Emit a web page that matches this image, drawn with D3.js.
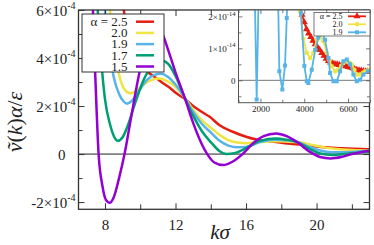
<!DOCTYPE html>
<html><head><meta charset="utf-8">
<script src="https://cdn.jsdelivr.net/npm/d3@7"></script>
<style>
body{margin:0;background:#fff}
svg{display:block}
</style>
</head><body>
<svg id="c" width="374" height="245"></svg>
<script>
// ---------- DATA (main plot, values in units of 1e-4) ----------
const alphaLabels = ["2.5", "2.0", "1.9", "1.7", "1.5"];
const seriesColors = ["#e51e10", "#f0e442", "#56b4e9", "#009e73", "#9400d3"];

const k25 = [8.9, 9.07, 9.3, 9.6, 10.0, 10.4, 10.8, 11.2, 11.6, 12.05, 12.52, 13.0, 13.5, 13.94, 14.5, 15.25, 16.0, 16.76, 17.7, 18.64, 19.5, 20.53, 21.5, 23];
const v25 = [7.5, 6.0, 5.0, 4.2, 3.7, 3.43, 3.22, 3.0, 2.8, 2.53, 2.3, 2.0, 1.75, 1.55, 1.2, 0.93, 0.72, 0.58, 0.5, 0.42, 0.36, 0.28, 0.24, 0.2];

const k20 = [8.15, 8.28, 8.5, 8.8, 9.1, 9.45, 9.8, 10.2, 10.7, 11.1, 11.5, 12.0, 12.52, 13.0, 13.5, 14.0, 14.5, 15.0, 15.5, 16.0, 16.8, 17.7, 18.3, 18.9, 19.6, 20.3, 21.0, 22.0, 23];
const v20 = [7.5, 6.0, 4.4, 3.3, 2.7, 2.53, 2.65, 2.9, 3.1, 3.15, 3.05, 2.8, 2.35, 1.85, 1.4, 1.1, 0.8, 0.58, 0.48, 0.45, 0.5, 0.53, 0.52, 0.5, 0.4, 0.3, 0.22, 0.17, 0.14];

const k19 = [7.9, 8.0, 8.2, 8.5, 8.8, 9.05, 9.25, 9.5, 9.9, 10.4, 10.8, 11.2, 11.6, 12.0, 12.52, 13.0, 13.5, 14.0, 14.5, 15.0, 15.5, 16.0, 16.8, 17.6, 18.3, 18.9, 19.6, 20.2, 20.8, 21.5, 22.2, 23];
const v19 = [7.5, 6.0, 4.5, 3.2, 2.5, 2.2, 2.1, 2.2, 2.6, 3.1, 3.3, 3.35, 3.2, 2.9, 2.35, 1.75, 1.25, 0.9, 0.55, 0.35, 0.28, 0.3, 0.5, 0.6, 0.58, 0.5, 0.3, 0.15, 0.08, 0.08, 0.1, 0.15];

const k17 = [7.45, 7.59, 7.8, 8.0, 8.3, 8.5, 8.73, 9.0, 9.3, 9.7, 10.2, 10.7, 11.2, 11.6, 12.0, 12.52, 13.0, 13.5, 14.0, 14.5, 14.9, 15.4, 16.0, 16.8, 17.7, 18.3, 18.9, 19.6, 20.2, 20.9, 21.6, 22.3, 23];
const v17 = [8.0, 6.0, 3.8, 2.3, 1.2, 0.75, 0.55, 0.7, 1.2, 2.1, 3.1, 3.7, 3.9, 3.75, 3.25, 2.35, 1.6, 0.95, 0.5, 0.12, 0.0, 0.05, 0.25, 0.55, 0.65, 0.6, 0.5, 0.22, 0.02, -0.04, 0.0, 0.06, 0.1];

const k15 = [7.2, 7.32, 7.45, 7.64, 7.85, 8.05, 8.27, 8.5, 8.8, 9.11, 9.5, 9.9, 10.3, 10.6, 10.9, 11.2, 11.6, 12.0, 12.52, 13.0, 13.5, 13.8, 14.2, 14.7, 15.2, 15.8, 16.4, 17.0, 17.7, 18.3, 18.9, 19.6, 20.2, 20.8, 21.4, 22.0, 22.5, 23];
const v15 = [9.0, 6.0, 3.3, 0.0, -1.3, -1.9, -2.03, -1.8, -1.0, 0.0, 1.6, 3.2, 4.5, 5.1, 5.3, 5.1, 4.3, 3.4, 2.35, 1.3, 0.4, 0.0, -0.35, -0.46, -0.33, 0.0, 0.45, 0.75, 0.86, 0.75, 0.5, 0.1, -0.12, -0.18, -0.12, 0.0, 0.08, 0.14];

const mainK = [k25, k20, k19, k17, k15];
const mainV = [v25, v20, v19, v17, v15];

const xMajorTicks = [8, 12, 16, 20];
const xMinorTicks = [10, 14, 18, 22];
const yMajorTicks = [-2, 0, 2, 4, 6];
const yMinorTicks = [-1, 1, 3, 5];
const yTickMantissa = ["-2", "0", "2", "4", "6"];
const yTickExponent = "-4";

// ---------- DATA (inset, values in units of 1e-14) ----------
const insetLabels = ["2.5", "2.0", "1.9"];
const insetColors = ["#e51e10", "#f0e442", "#56b4e9"];
const iX25 = [3700, 3800, 3900, 4000, 4100, 4200, 4300, 4400, 4500, 4600, 4700, 4800, 4900, 5000, 5100, 5200, 5300, 5400, 5500, 5600, 5700, 5800, 5900, 6000, 6100, 6200, 6300, 6400, 6500, 6600, 6700, 6800, 6900, 7000];
const iV25 = [2.7, 2.3, 2.05, 1.82, 1.6, 1.47, 1.36, 1.24, 1.13, 1.04, 0.95, 0.86, 0.77, 0.68, 0.61, 0.56, 0.53, 0.51, 0.5, 0.48, 0.46, 0.45, 0.44, 0.42, 0.4, 0.38, 0.35, 0.33, 0.31, 0.3, 0.29, 0.28, 0.28, 0.28];
const iX20 = [3650, 3808, 3960, 4114, 4265, 4416, 4571, 4721, 4872, 5027, 5150, 5256, 5406, 5557, 5680, 5785, 5941, 6060, 6169, 6290, 6397, 6548, 6670, 6776, 6900, 7005];
const iV20 = [3.0, 2.15, 1.3, 0.86, 0.7, 0.86, 1.27, 1.43, 1.22, 0.86, 0.62, 0.44, 0.28, 0.33, 0.45, 0.54, 0.6, 0.56, 0.49, 0.33, 0.18, 0.18, 0.24, 0.28, 0.31, 0.33];
const iX19 = [1500, 1680, 1830, 1980, 2200, 2500, 2713, 2863, 3000, 3123, 3201, 3350, 3550, 3750, 3854, 4005, 4114, 4187, 4342, 4500, 4644, 4799, 4950, 5100, 5178, 5329, 5484, 5635, 5785, 5941, 6091, 6242, 6397, 6548, 6699, 6900, 7050];
const iV19 = [9, 5, -0.6, 5, 9, 9, 6.5, 0.28, -0.29, 0.46, 1.95, 6, 8, 5.5, 2.1, 0.45, -0.03, -0.08, 0.33, 0.95, 1.33, 1.5, 1.27, 0.7, 0.23, -0.03, -0.03, 0.28, 0.6, 0.65, 0.5, 0.18, -0.03, 0.02, 0.18, 0.28, 0.28];
const insetX = [iX25, iX20, iX19];
const insetV = [iV25, iV20, iV19];
const insetXTicks = [2000, 4000, 6000];
const insetXMinor = [1000, 3000, 5000, 7000];
const insetYTicks = [0, 1, 2];
const insetYMinor = [-0.5, 0.5, 1.5];
const insetYMantissa = ["0", "1", "2"];
const insetYExponent = "-14";

// ---------- LAYOUT ----------
const FONT = "Liberation Serif";
const svg = d3.select("#c");
const L = 78.5, R = 369.5, T = 10, B = 209.3;
const x = d3.scaleLinear().domain([6.5, 23]).range([L, R]);
const y = d3.scaleLinear().domain([-2.3, 6]).range([B, T]);
const frameColor = "#333";

svg.append("defs").append("clipPath").attr("id", "mainclip")
  .append("rect").attr("x", L).attr("y", T).attr("width", R - L).attr("height", B - T);

// zero line
svg.append("line").attr("x1", L).attr("x2", R).attr("y1", y(0)).attr("y2", y(0))
  .attr("stroke", "#222").attr("stroke-width", 1);

// curves
const line = d3.line().x(d => x(d[0])).y(d => y(d[1])).curve(d3.curveMonotoneX);
const gCurves = svg.append("g").attr("clip-path", "url(#mainclip)");
mainK.forEach((ks, i) => {
  const pts = ks.map((k, j) => [k, mainV[i][j]]);
  gCurves.append("path").attr("d", line(pts)).attr("fill", "none")
    .attr("stroke", seriesColors[i]).attr("stroke-width", 2.5);
});

// axes (inward ticks on all sides)
function addAxis(axisFn, scale, vals, size, transform, labels) {
  const a = axisFn(scale).tickValues(vals).tickSizeInner(-size).tickSizeOuter(0).tickPadding(6);
  a.tickFormat(labels ? d3.format("d") : "");
  const g = svg.append("g").attr("transform", transform).call(a).attr("font-family", FONT);
  g.select(".domain").remove();
  g.selectAll("line").attr("stroke", frameColor).attr("stroke-width", 1);
  g.selectAll("text").attr("font-family", FONT);
  return g;
}
const gxb = addAxis(d3.axisBottom, x, xMajorTicks, 6, `translate(0,${B})`, true);
addAxis(d3.axisBottom, x, xMinorTicks, 5, `translate(0,${B})`, false);
addAxis(d3.axisTop, x, xMajorTicks, 6, `translate(0,${T})`, false);
addAxis(d3.axisTop, x, xMinorTicks, 5, `translate(0,${T})`, false);
const gyl = addAxis(d3.axisLeft, y, yMajorTicks, 6, `translate(${L},0)`, true);
addAxis(d3.axisLeft, y, yMinorTicks, 4, `translate(${L},0)`, false);
addAxis(d3.axisRight, y, yMajorTicks, 6, `translate(${R},0)`, false);
addAxis(d3.axisRight, y, yMinorTicks, 4, `translate(${R},0)`, false);

gxb.selectAll("text").attr("font-size", 15).attr("fill", "#222").attr("dy", "0.95em");
gyl.selectAll("text").each(function(d, i) {
  const t = d3.select(this).text("").attr("font-size", 15).attr("fill", "#222")
    .attr("x", -3).attr("dy", "0.35em");
  const m = yTickMantissa[i];
  if (m === "0") { t.text("0").attr("x", -13); return; }
  t.append("tspan").text(m + "×10");
  t.append("tspan").attr("font-size", 10).attr("dy", "-0.7em").text(yTickExponent);
});

// frame
svg.append("rect").attr("x", L).attr("y", T).attr("width", R - L).attr("height", B - T)
  .attr("fill", "none").attr("stroke", frameColor).attr("stroke-width", 1.3);

// axis titles
svg.append("text").attr("x", 220).attr("y", 239).attr("text-anchor", "middle")
  .attr("font-family", FONT).attr("font-size", 21).attr("font-style", "italic")
  .attr("fill", "#222").text("kσ");
const yl = svg.append("text").attr("transform", "translate(22,122) rotate(-90)")
  .attr("font-family", FONT).attr("text-anchor", "middle").attr("font-size", 22).attr("fill", "#222");
yl.append("tspan").attr("font-style", "italic").text("v\u0303");
yl.append("tspan").text("(");
yl.append("tspan").attr("font-style", "italic").text("k");
yl.append("tspan").text(")");
yl.append("tspan").attr("font-style", "italic").text("α");
yl.append("tspan").text("/");
yl.append("tspan").attr("font-style", "italic").text("ε");

// main legend
const lg = svg.append("g");
lg.append("rect").attr("x", 82).attr("y", 14).attr("width", 82).attr("height", 58)
  .attr("fill", "#fff").attr("stroke", frameColor).attr("stroke-width", 1);
alphaLabels.forEach((a, i) => {
  const cy = 21.7 + i * 11.2;
  lg.append("text").attr("x", 127.5).attr("y", cy).attr("dy", "0.33em")
    .attr("font-family", FONT).attr("fill", "#222")
    .attr("text-anchor", "end").attr("font-size", 13)
    .text(i === 0 ? "α = " + a : a);
  lg.append("line").attr("x1", 136).attr("x2", 154).attr("y1", cy).attr("y2", cy)
    .attr("stroke", seriesColors[i]).attr("stroke-width", 2.5);
});

// ---------- INSET ----------
const IL = 238.5, IR = 370, IT = 10, IB = 102.7;
const ix = d3.scaleLinear().domain([1000, 7000]).range([IL, IR]);
const iy = d3.scaleLinear().domain([-0.7, 2.2]).range([IB, IT]);
svg.append("rect").attr("x", IL).attr("y", IT).attr("width", IR - IL).attr("height", IB - IT)
  .attr("fill", "#fff");
svg.append("defs").append("clipPath").attr("id", "iclip")
  .append("rect").attr("x", IL).attr("y", IT).attr("width", IR - IL).attr("height", IB - IT);
svg.append("line").attr("x1", IL).attr("x2", IR).attr("y1", iy(0)).attr("y2", iy(0))
  .attr("stroke", "#777").attr("stroke-width", 1);

const gi = svg.append("g").attr("clip-path", "url(#iclip)");
const iline = d3.line().x(d => ix(d[0])).y(d => iy(d[1]));
const sym = [d3.symbolTriangle, d3.symbolCircle, d3.symbolSquare];
const symSize = [22, 16, 16];
insetX.forEach((xs, i) => {
  const pts = xs.map((v, j) => [v, insetV[i][j]]);
  gi.append("path").attr("d", iline(pts)).attr("fill", "none")
    .attr("stroke", insetColors[i]).attr("stroke-width", 1.8);
  gi.selectAll(null).data(pts).join("path")
    .attr("transform", d => `translate(${ix(d[0])},${iy(d[1])})`)
    .attr("d", d3.symbol(sym[i], symSize[i])).attr("fill", insetColors[i]);
});

function addIAxis(axisFn, scale, vals, size, transform, labels) {
  const a = axisFn(scale).tickValues(vals).tickSizeInner(-size).tickSizeOuter(0).tickPadding(3);
  a.tickFormat(labels ? d3.format("d") : "");
  const g = svg.append("g").attr("transform", transform).call(a).attr("font-family", FONT);
  g.select(".domain").remove();
  g.selectAll("line").attr("stroke", "#555").attr("stroke-width", 0.8);
  g.selectAll("text").attr("font-family", FONT);
  return g;
}
const gib = addIAxis(d3.axisBottom, ix, insetXTicks, 4, `translate(0,${IB})`, true);
addIAxis(d3.axisBottom, ix, insetXMinor, 3, `translate(0,${IB})`, false);
addIAxis(d3.axisTop, ix, insetXTicks, 4, `translate(0,${IT})`, false);
addIAxis(d3.axisTop, ix, insetXMinor, 3, `translate(0,${IT})`, false);
const gil = addIAxis(d3.axisLeft, iy, insetYTicks, 4, `translate(${IL},0)`, true);
addIAxis(d3.axisLeft, iy, insetYMinor, 3, `translate(${IL},0)`, false);
addIAxis(d3.axisRight, iy, insetYTicks, 4, `translate(${IR},0)`, false);
addIAxis(d3.axisRight, iy, insetYMinor, 3, `translate(${IR},0)`, false);
gib.selectAll("text").attr("font-size", 9).attr("fill", "#222");
gil.selectAll("text").each(function(d, i) {
  const t = d3.select(this).text("").attr("font-size", 9).attr("fill", "#222").attr("dy", "0.35em");
  const m = insetYMantissa[i];
  if (m === "0") { t.text("0"); return; }
  t.append("tspan").text(m + "×10");
  t.append("tspan").attr("font-size", 6.5).attr("dy", "-0.7em").text(insetYExponent);
});
svg.append("rect").attr("x", IL).attr("y", IT).attr("width", IR - IL).attr("height", IB - IT)
  .attr("fill", "none").attr("stroke", "#555").attr("stroke-width", 1);

// inset legend
const il = svg.append("g");
il.append("rect").attr("x", 314).attr("y", 12.5).attr("width", 56).attr("height", 23.5)
  .attr("fill", "#fff").attr("stroke", "#555").attr("stroke-width", 0.8);
insetLabels.forEach((a, i) => {
  const cy = 16.3 + i * 8;
  il.append("text").attr("x", 342.5).attr("y", cy).attr("dy", "0.33em")
    .attr("font-family", FONT).attr("fill", "#222")
    .attr("text-anchor", "end").attr("font-size", 8)
    .text(i === 0 ? "α = " + a : a);
  il.append("line").attr("x1", 348).attr("x2", 366).attr("y1", cy).attr("y2", cy)
    .attr("stroke", insetColors[i]).attr("stroke-width", 1.8);
  il.append("path").attr("transform", `translate(357,${cy})`)
    .attr("d", d3.symbol(sym[i], symSize[i])).attr("fill", insetColors[i]);
});
</script>
</body></html>
